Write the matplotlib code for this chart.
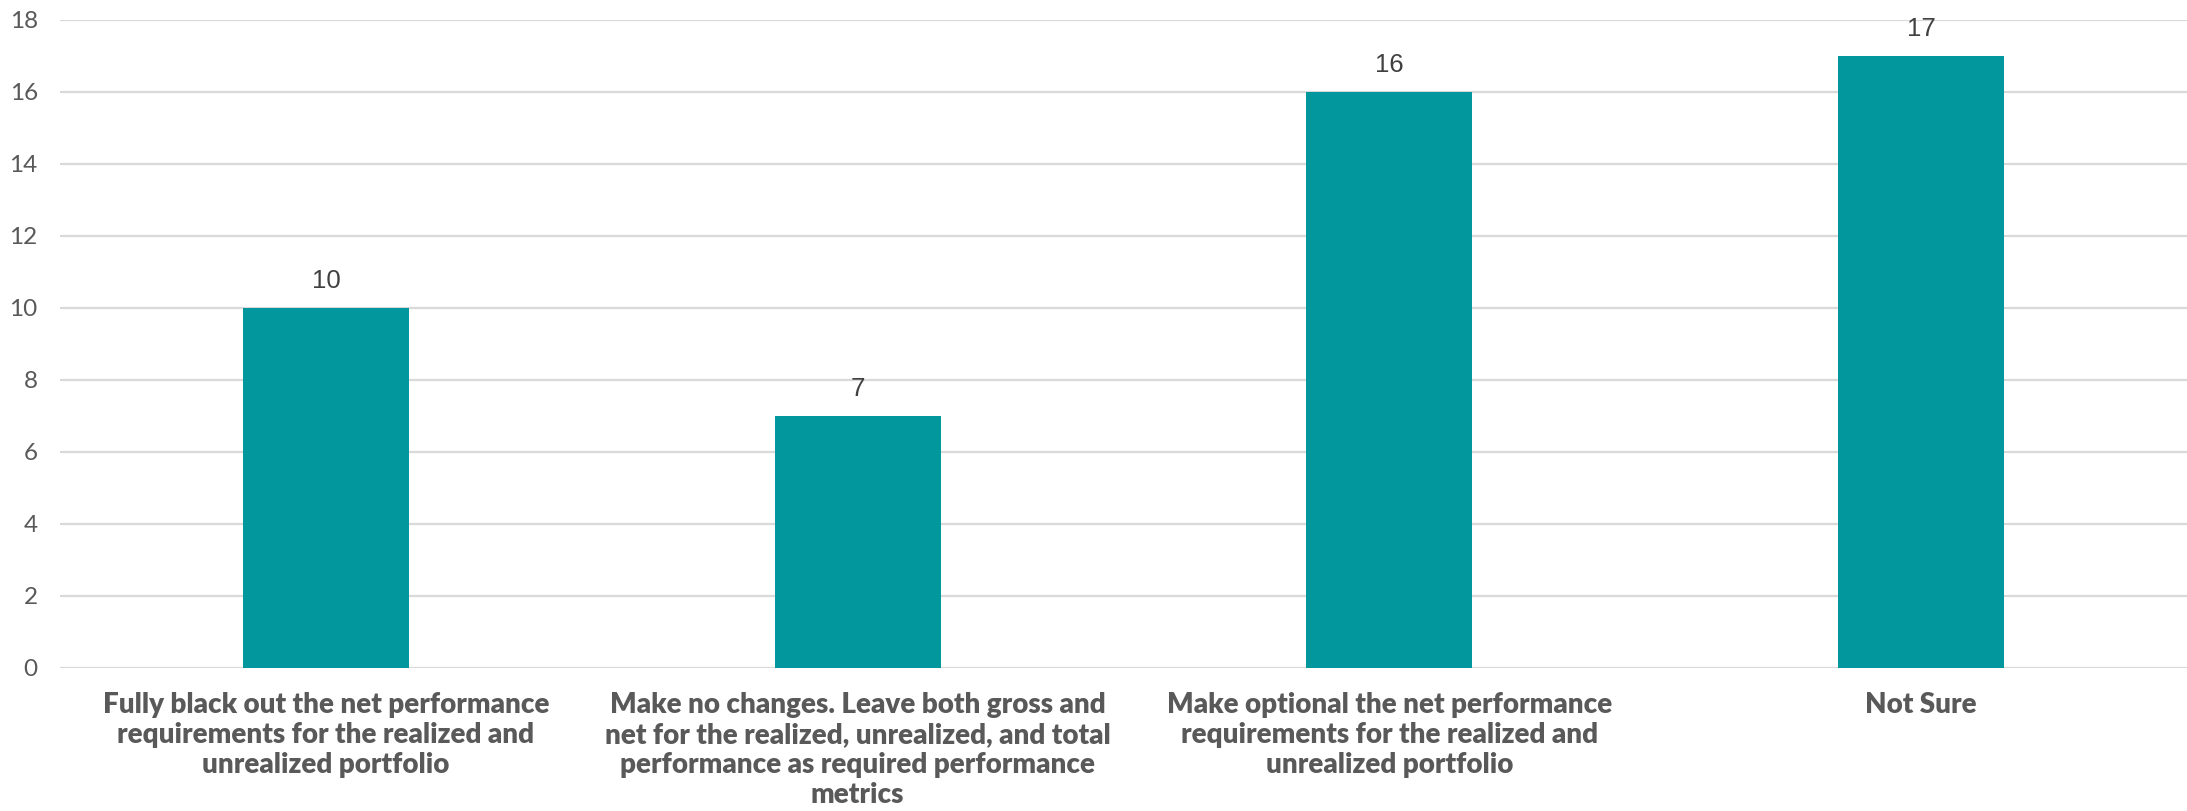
import matplotlib
matplotlib.use("Agg")
import matplotlib.pyplot as plt
from matplotlib.ticker import MultipleLocator

categories = [
    "Fully black out the net performance\nrequirements for the realized and\nunrealized portfolio",
    "Make no changes. Leave both gross and\nnet for the realized, unrealized, and total\nperformance as required performance\nmetrics",
    "Make optional the net performance\nrequirements for the realized and\nunrealized portfolio",
    "Not Sure",
]
values = [10, 7, 16, 17]

BAR_COLOR = "#02979C"
GRID_COLOR = "#D9D9D9"
TEXT_GRAY = "#595959"

fig = plt.figure(figsize=(21.87, 8.11), dpi=100)
ax = fig.add_axes([60 / 2187, 143 / 811, 1 - 60 / 2187, (668 - 20) / 811])

x = list(range(len(categories)))
bars = ax.bar(x, values, width=0.312, color=BAR_COLOR, zorder=3)

ax.set_xlim(-0.5, len(categories) - 0.5)
ax.set_ylim(0, 18)
ax.yaxis.set_major_locator(MultipleLocator(2))
ax.grid(axis="y", color=GRID_COLOR, linewidth=1.6, zorder=0)
ax.set_axisbelow(True)

for s in ax.spines.values():
    s.set_visible(False)

ax.tick_params(axis="y", length=0, pad=16, labelsize=17.5, labelcolor=TEXT_GRAY)
for lab in ax.get_yticklabels():
    lab.set_family("Lato")
    lab.set_fontweight("normal")

ax.set_xticks(x)
ax.set_xticklabels(categories, fontsize=20, fontweight="heavy", family="Lato",
                   color=TEXT_GRAY, linespacing=1.2)
ax.tick_params(axis="x", length=0, pad=17)

for rect, v in zip(bars, values):
    ax.annotate(f"{v}", (rect.get_x() + rect.get_width() / 2, v),
                xytext=(0, 11), textcoords="offset points",
                ha="center", va="bottom", fontsize=18.5,
                family="Liberation Sans", color="#404040")

fig.savefig("out.png", dpi=100)
